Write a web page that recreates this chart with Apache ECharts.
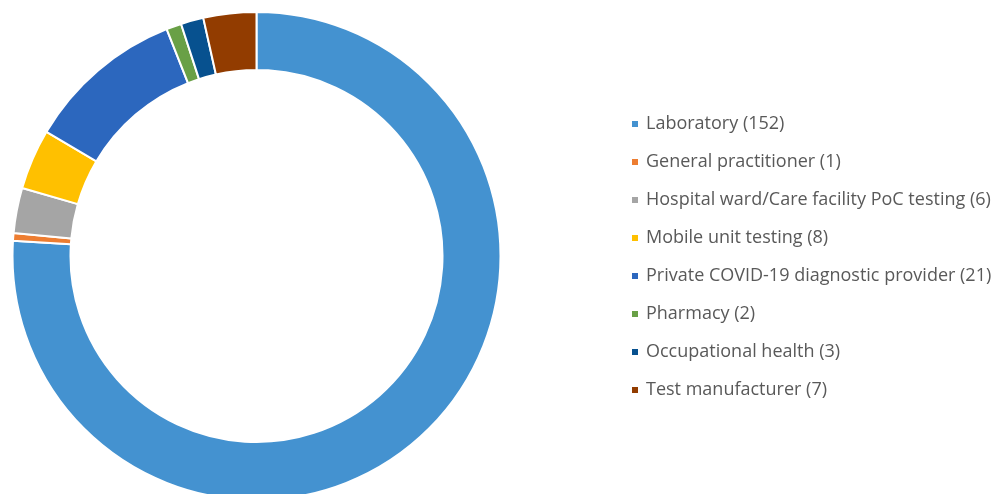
<!DOCTYPE html>
<html>
<head>
<meta charset="utf-8">
<script src="https://cdn.jsdelivr.net/npm/echarts@6/dist/echarts.min.js"></script>
<style>
html,body{margin:0;padding:0;background:#fff;}
#chart{width:995px;height:494px;}
</style>
</head>
<body>
<div id="chart"></div>
<script>
var categories=['Laboratory','General practitioner','Hospital ward/Care facility PoC testing','Mobile unit testing','Private COVID-19 diagnostic provider','Pharmacy','Occupational health','Test manufacturer'];
var counts=[152,1,6,8,21,2,3,7];
var colors=['#4492D0','#ED7D31','#A5A5A5','#FFC000','#2C67BE','#69A046','#07518F','#923C00'];

var myChart=echarts.init(document.getElementById('chart'));

var pieData=[];
for(var i=0;i<categories.length;i++){
	pieData.push({
		name:categories[i]+' ('+counts[i]+')',
		value:counts[i],
		itemStyle:{color:colors[i]}
	});
}

var option={
	animation:false,
	legend:{
		orient:'vertical',
		left:630,
		top:114,
		padding:0,
		itemWidth:8,
		itemHeight:8,
		itemGap:18,
		icon:'rect',
		textStyle:{
			color:'#595959',
			fontSize:18,
			fontFamily:'Open Sans',
			lineHeight:20,
			padding:[0,0,0,2]
		},
		data:pieData.map(function(d){return d.name;})
	},
	series:[{
		type:'pie',
		center:[256.5,256],
		radius:[186,244],
		startAngle:90,
		clockwise:true,
		label:{show:false},
		labelLine:{show:false},
		itemStyle:{borderColor:'#fff',borderWidth:2},
		emphasis:{disabled:true},
		data:pieData
	}]
};
myChart.setOption(option);
</script>
</body>
</html>
